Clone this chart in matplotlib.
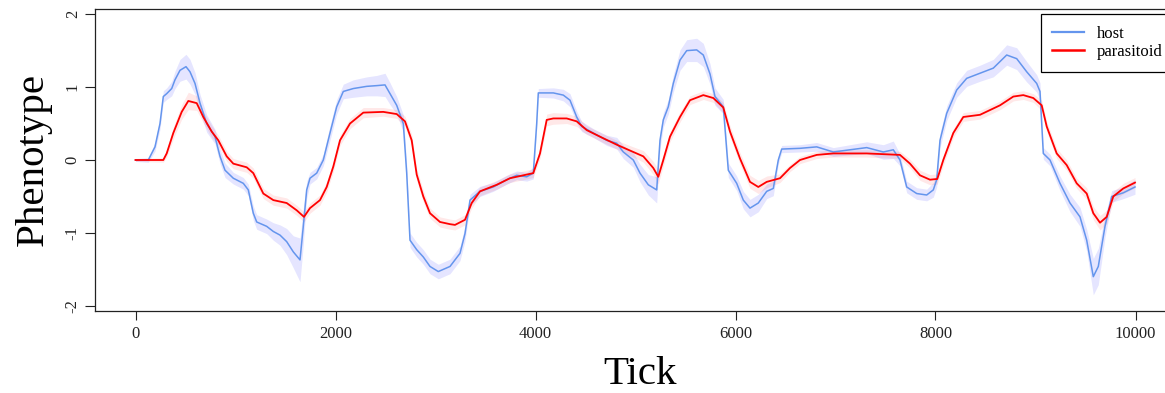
import matplotlib
matplotlib.use("Agg")
import matplotlib.pyplot as plt
import numpy as np
from matplotlib.lines import Line2D

# ---------------- data ----------------
host_tick = [0, 128, 195, 245, 278, 312, 362, 395, 445, 505, 545, 595, 645, 712, 795, 845, 895, 978,
             1078, 1128, 1178, 1212, 1312, 1378, 1445, 1512, 1578, 1645, 1678, 1712, 1745, 1812, 1878,
             1945, 2012, 2078, 2178, 2312, 2412, 2495, 2545, 2612, 2678, 2712, 2745, 2812, 2878, 2945,
             3028, 3145, 3245, 3295, 3345, 3445, 3578, 3712, 3812, 3912, 3978, 4012, 4028, 4178, 4278,
             4345, 4412, 4462, 4578, 4712, 4812, 4878, 4978, 5045, 5128, 5212, 5245, 5278, 5328, 5378,
             5445, 5512, 5612, 5678, 5745, 5795, 5878, 5928, 6012, 6078, 6145, 6228, 6312, 6378, 6428,
             6462, 6645, 6812, 6978, 7145, 7312, 7478, 7578, 7645, 7712, 7812, 7912, 7978, 8012, 8045,
             8112, 8212, 8312, 8445, 8578, 8712, 8812, 8912, 9012, 9045, 9078, 9145, 9245, 9345, 9445,
             9512, 9578, 9628, 9695, 9762, 9878, 9995]
host_mean = [0.00, 0.00, 0.18, 0.50, 0.87, 0.91, 0.98, 1.10, 1.23, 1.28, 1.21, 1.05, 0.78, 0.50, 0.32, 0.05, -0.14, -0.25,
             -0.32, -0.41, -0.73, -0.85, -0.91, -0.98, -1.03, -1.12, -1.26, -1.37, -0.91, -0.41, -0.25, -0.18, 0.00,
             0.37, 0.73, 0.94, 0.98, 1.01, 1.02, 1.03, 0.91, 0.75, 0.50, -0.18, -1.10, -1.23, -1.33, -1.46,
             -1.53, -1.46, -1.28, -1.01, -0.55, -0.43, -0.37, -0.27, -0.21, -0.23, -0.18, 0.50, 0.92, 0.92, 0.89,
             0.82, 0.59, 0.46, 0.37, 0.27, 0.23, 0.11, 0.00, -0.18, -0.34, -0.41, 0.27, 0.55, 0.73, 1.05,
             1.37, 1.50, 1.51, 1.44, 1.18, 0.87, 0.73, -0.14, -0.32, -0.55, -0.66, -0.59, -0.43, -0.39, 0.00,
             0.15, 0.16, 0.18, 0.11, 0.14, 0.17, 0.11, 0.14, 0.00, -0.37, -0.46, -0.48, -0.41, -0.27, 0.27,
             0.64, 0.96, 1.12, 1.19, 1.26, 1.44, 1.39, 1.21, 1.05, 0.94, 0.09, 0.00, -0.32, -0.59, -0.78,
             -1.10, -1.60, -1.46, -0.91, -0.50, -0.45, -0.37]
host_se = [0.02, 0.03, 0.06, 0.08, 0.08, 0.08, 0.10, 0.12, 0.15, 0.17, 0.17, 0.15, 0.12, 0.12, 0.10, 0.10, 0.10, 0.08,
           0.08, 0.08, 0.10, 0.10, 0.10, 0.12, 0.14, 0.18, 0.22, 0.30, 0.25, 0.12, 0.08, 0.08, 0.08,
           0.10, 0.10, 0.10, 0.12, 0.13, 0.14, 0.16, 0.15, 0.12, 0.12, 0.12, 0.10, 0.10, 0.10, 0.10,
           0.10, 0.10, 0.10, 0.10, 0.08, 0.07, 0.06, 0.06, 0.06, 0.06, 0.08, 0.08, 0.06, 0.07, 0.08,
           0.09, 0.08, 0.07, 0.06, 0.07, 0.08, 0.09, 0.10, 0.12, 0.14, 0.18, 0.12, 0.10, 0.10, 0.12,
           0.14, 0.15, 0.16, 0.16, 0.14, 0.12, 0.10, 0.10, 0.10, 0.12, 0.12, 0.12, 0.10, 0.10, 0.06,
           0.05, 0.05, 0.06, 0.06, 0.07, 0.08, 0.10, 0.12, 0.08, 0.08, 0.08, 0.08, 0.10, 0.10, 0.10,
           0.10, 0.10, 0.11, 0.11, 0.12, 0.14, 0.15, 0.14, 0.12, 0.12, 0.08, 0.08, 0.10, 0.12, 0.13,
           0.15, 0.25, 0.25, 0.15, 0.08, 0.08, 0.10]

para_tick = [0, 278, 312, 378, 462, 528, 612, 678, 762, 828, 912, 978, 1112, 1178, 1278, 1378, 1512, 1612,
             1685, 1745, 1845, 1912, 1978, 2045, 2145, 2278, 2478, 2612, 2695, 2762, 2812, 2878, 2945,
             3045, 3145, 3195, 3295, 3362, 3445, 3612, 3745, 3878, 3978, 4045, 4112, 4178, 4312, 4412,
             4512, 4645, 4812, 4978, 5078, 5178, 5228, 5278, 5345, 5445, 5545, 5678, 5778, 5878, 5945,
             6045, 6145, 6228, 6312, 6445, 6545, 6645, 6812, 6978, 7312, 7645, 7745, 7845, 7945, 8018,
             8078, 8178, 8278, 8445, 8645, 8778, 8878, 8978, 9062, 9112, 9212, 9312, 9412, 9512, 9578,
             9645, 9712, 9778, 9878, 9995]
para_mean = [0.00, 0.00, 0.09, 0.37, 0.66, 0.81, 0.78, 0.59, 0.39, 0.27, 0.05, -0.05, -0.10, -0.18, -0.46, -0.55, -0.59, -0.69,
             -0.78, -0.66, -0.55, -0.37, -0.09, 0.27, 0.50, 0.65, 0.66, 0.63, 0.53, 0.27, -0.20, -0.50, -0.73,
             -0.85, -0.88, -0.89, -0.82, -0.59, -0.43, -0.34, -0.25, -0.21, -0.18, 0.09, 0.55, 0.57, 0.57, 0.53,
             0.41, 0.32, 0.21, 0.11, 0.05, -0.11, -0.23, 0.00, 0.32, 0.59, 0.82, 0.89, 0.85, 0.72, 0.39,
             0.02, -0.30, -0.37, -0.30, -0.25, -0.11, 0.00, 0.07, 0.09, 0.09, 0.07, -0.05, -0.21, -0.27, -0.26,
             0.00, 0.37, 0.59, 0.62, 0.75, 0.87, 0.89, 0.85, 0.75, 0.46, 0.09, -0.07, -0.32, -0.46, -0.73,
             -0.86, -0.78, -0.50, -0.39, -0.31]
para_se = [0.02, 0.03, 0.05, 0.08, 0.10, 0.12, 0.10, 0.08, 0.08, 0.07, 0.07, 0.07, 0.07, 0.07, 0.07, 0.07, 0.07, 0.07,
           0.07, 0.07, 0.07, 0.07, 0.07, 0.07, 0.07, 0.07, 0.06, 0.06, 0.07, 0.08, 0.08, 0.08, 0.07,
           0.07, 0.07, 0.07, 0.07, 0.07, 0.06, 0.06, 0.06, 0.06, 0.06, 0.07, 0.08, 0.08, 0.07, 0.07,
           0.06, 0.06, 0.06, 0.07, 0.08, 0.09, 0.10, 0.08, 0.07, 0.07, 0.06, 0.06, 0.06, 0.07, 0.08,
           0.08, 0.09, 0.09, 0.08, 0.06, 0.05, 0.05, 0.05, 0.05, 0.05, 0.05, 0.06, 0.07, 0.07, 0.07,
           0.07, 0.06, 0.06, 0.06, 0.06, 0.06, 0.06, 0.06, 0.07, 0.07, 0.07, 0.07, 0.07, 0.08, 0.09,
           0.10, 0.09, 0.07, 0.07, 0.07]

x_ticks = [0, 2000, 4000, 6000, 8000, 10000]
y_ticks = [-2, -1, 0, 1, 2]
series_names = ["host", "parasitoid"]

# ---------------- figure ----------------
W, H = 1165, 393
fig = plt.figure(figsize=(W / 100, H / 100), dpi=100)
plt.rcParams['font.family'] = ['Liberation Serif', 'DejaVu Serif']

# plot box: left edge at 95 px, right edge beyond the image (cut off as in the reference)
left_px, right_px, top_px, bottom_px = 95, 1205.5, 9, 311
ax = fig.add_axes([left_px / W, 1 - bottom_px / H, (right_px - left_px) / W, (bottom_px - top_px) / H])

ht, hm, hs = np.array(host_tick), np.array(host_mean), np.array(host_se)
pt, pm, ps = np.array(para_tick), np.array(para_mean), np.array(para_se)

host_col = "#6495ED"
para_col = "#FF0000"

ax.fill_between(ht, hm - hs, hm + hs, color=(0, 0, 1, 0.10), linewidth=0)
ax.fill_between(pt, pm - ps, pm + ps, color=(1, 0, 0, 0.09), linewidth=0)
ax.plot(ht, hm, color=host_col, lw=1.1)
ax.plot(pt, pm, color=para_col, lw=1.3)

ax.set_xlim(-405, 10700)
ax.set_ylim(-2.071, 2.071)
ax.set_xticks(x_ticks)
ax.set_xticklabels([str(v) for v in x_ticks])
ax.set_yticks(y_ticks)
ax.set_yticklabels([str(v) for v in y_ticks])
ax.tick_params(axis='x', length=6.5, width=0.8, pad=4.5, labelsize=12, colors='#222222')
ax.tick_params(axis='y', length=7.2, width=0.8, pad=3, labelsize=12, labelrotation=90, colors='#222222')
for lab in ax.get_yticklabels():
    lab.set_va('center')
for sp in ax.spines.values():
    sp.set_linewidth(0.9)
    sp.set_color('#222222')
ax.spines['right'].set_visible(False)

fig.text(33 / W, 1 - 160 / H, "Phenotype", rotation=90, ha='center', va='center', fontsize=29.5)
fig.text(640 / W, 1 - 384 / H, "Tick", ha='center', va='baseline', fontsize=29.5)

handles = [Line2D([], [], color=host_col, lw=1.6), Line2D([], [], color=para_col, lw=1.8)]
leg = fig.legend(handles, series_names, loc='upper left',
                 bbox_to_anchor=(1040.5 / W, 1 - 14 / H), borderaxespad=0,
                 fontsize=12, handlelength=1.9, handletextpad=0.8, borderpad=0.7,
                 labelspacing=0.15, fancybox=False, framealpha=1, edgecolor='black')
leg.get_frame().set_linewidth(0.9)

fig.savefig("out.png", dpi=100)
